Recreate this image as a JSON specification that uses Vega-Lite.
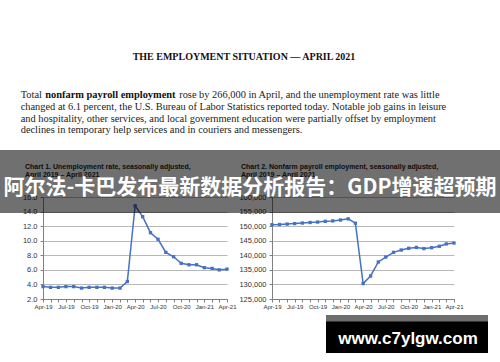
{
  "$schema": "https://vega.github.io/schema/vega-lite/v6.json",
  "width": 500,
  "height": 362,
  "padding": 0,
  "autosize": {"type": "none"},
  "background": "white",
  "config": {"view": {"stroke": null}},
  "datasets": {
    "unemp": [
      {"date": "2019/04/01", "rate": 3.7},
      {"date": "2019/05/01", "rate": 3.6},
      {"date": "2019/06/01", "rate": 3.6},
      {"date": "2019/07/01", "rate": 3.7},
      {"date": "2019/08/01", "rate": 3.7},
      {"date": "2019/09/01", "rate": 3.5},
      {"date": "2019/10/01", "rate": 3.6},
      {"date": "2019/11/01", "rate": 3.6},
      {"date": "2019/12/01", "rate": 3.6},
      {"date": "2020/01/01", "rate": 3.5},
      {"date": "2020/02/01", "rate": 3.5},
      {"date": "2020/03/01", "rate": 4.4},
      {"date": "2020/04/01", "rate": 14.8},
      {"date": "2020/05/01", "rate": 13.3},
      {"date": "2020/06/01", "rate": 11.1},
      {"date": "2020/07/01", "rate": 10.2},
      {"date": "2020/08/01", "rate": 8.4},
      {"date": "2020/09/01", "rate": 7.8},
      {"date": "2020/10/01", "rate": 6.9},
      {"date": "2020/11/01", "rate": 6.7},
      {"date": "2020/12/01", "rate": 6.7},
      {"date": "2021/01/01", "rate": 6.3},
      {"date": "2021/02/01", "rate": 6.2},
      {"date": "2021/03/01", "rate": 6.0},
      {"date": "2021/04/01", "rate": 6.1}
    ],
    "payroll": [
      {"date": "2019/04/01", "jobs": 150500},
      {"date": "2019/05/01", "jobs": 150560},
      {"date": "2019/06/01", "jobs": 150700},
      {"date": "2019/07/01", "jobs": 150880},
      {"date": "2019/08/01", "jobs": 151060},
      {"date": "2019/09/01", "jobs": 151250},
      {"date": "2019/10/01", "jobs": 151400},
      {"date": "2019/11/01", "jobs": 151650},
      {"date": "2019/12/01", "jobs": 151800},
      {"date": "2020/01/01", "jobs": 152100},
      {"date": "2020/02/01", "jobs": 152500},
      {"date": "2020/03/01", "jobs": 151000},
      {"date": "2020/04/01", "jobs": 130300},
      {"date": "2020/05/01", "jobs": 132900},
      {"date": "2020/06/01", "jobs": 137700},
      {"date": "2020/07/01", "jobs": 139400},
      {"date": "2020/08/01", "jobs": 141000},
      {"date": "2020/09/01", "jobs": 141800},
      {"date": "2020/10/01", "jobs": 142400},
      {"date": "2020/11/01", "jobs": 142700},
      {"date": "2020/12/01", "jobs": 142300},
      {"date": "2021/01/01", "jobs": 142600},
      {"date": "2021/02/01", "jobs": 143100},
      {"date": "2021/03/01", "jobs": 143900},
      {"date": "2021/04/01", "jobs": 144200}
    ],
    "texts": [
      {"id": "head", "t": "THE EMPLOYMENT SITUATION — APRIL 2021"},
      {"id": "p1a", "t": "Total"},
      {"id": "p1b", "t": "nonfarm payroll employment"},
      {"id": "p1c", "t": "rose by 266,000 in April, and the unemployment rate was little"},
      {"id": "p2", "t": ["changed at 6.1 percent, the U.S. Bureau of Labor Statistics reported today. Notable job gains in leisure", "and hospitality, other services, and local government education were partially offset by employment", "declines in temporary help services and in couriers and messengers."]},
      {"id": "c1", "t": ["Chart 1. Unemployment rate, seasonally adjusted,", "April 2019 – April 2021"]},
      {"id": "c2", "t": ["Chart 2. Nonfarm payroll employment, seasonally adjusted,", "April 2019 – April 2021"]},
      {"id": "banner", "t": "阿尔法-卡巴发布最新数据分析报告：GDP增速超预期"},
      {"id": "wm", "t": "www.c7ylgw.com"}
    ]
  },
  "layer": [
    {
      "data": {"name": "unemp"},
      "encoding": {
        "x": {
          "field": "date", "type": "temporal",
          "scale": {"domain": [{"year": 2019, "month": 4, "date": 1}, {"year": 2021, "month": 4, "date": 1}], "range": [43, 227]},
          "axis": {
            "title": null, "orient": "bottom", "offset": -63, "grid": false,
            "tickCount": {"interval": "month", "step": 1},
            "labelExpr": "month(datum.value) % 3 == 0 ? timeFormat(datum.value, '%b-%y') : ''",
            "labelOverlap": false, "labelFlush": false, "labelBound": false,
            "labelFont": "Liberation Sans", "labelFontSize": 6, "labelColor": "#333333", "labelPadding": 1,
            "tickSize": 3, "tickColor": "#808080", "domainColor": "#808080"
          }
        },
        "y": {
          "field": "rate", "type": "quantitative",
          "scale": {"domain": [2, 16], "range": [299, 197], "nice": false, "zero": false},
          "axis": {
            "title": null, "orient": "left", "offset": -43,
            "values": [2, 4, 6, 8, 10, 12, 14, 16], "format": ".1f",
            "labelFont": "Liberation Sans", "labelFontSize": 7.5, "labelColor": "#333333", "labelPadding": 3,
            "tickSize": 3, "tickColor": "#808080", "domainColor": "#808080",
            "grid": true, "gridColor": "#a6a6a6", "gridWidth": 0.8
          }
        }
      },
      "layer": [
        {"mark": {"type": "line", "color": "#4472C4", "strokeWidth": 1.5}},
        {"mark": {"type": "point", "shape": "square", "filled": true, "size": 11, "color": "#4472C4", "opacity": 1}},
        {
          "data": {"values": [{}]},
          "mark": {"type": "rule", "color": "#8c8c8c", "strokeWidth": 0.8},
          "encoding": {
            "x": {"datum": {"year": 2021, "month": 4, "date": 1}, "type": "temporal"},
            "y": {"datum": 2, "type": "quantitative"},
            "y2": {"datum": 16}
          }
        }
      ]
    },
    {
      "data": {"name": "payroll"},
      "encoding": {
        "x": {
          "field": "date", "type": "temporal",
          "scale": {"domain": [{"year": 2019, "month": 4, "date": 1}, {"year": 2021, "month": 4, "date": 1}], "range": [272, 454]},
          "axis": {
            "title": null, "orient": "bottom", "offset": -63, "grid": false,
            "tickCount": {"interval": "month", "step": 1},
            "labelExpr": "month(datum.value) % 3 == 0 ? timeFormat(datum.value, '%b-%y') : ''",
            "labelOverlap": false, "labelFlush": false, "labelBound": false,
            "labelFont": "Liberation Sans", "labelFontSize": 6, "labelColor": "#333333", "labelPadding": 1,
            "tickSize": 3, "tickColor": "#808080", "domainColor": "#808080"
          }
        },
        "y": {
          "field": "jobs", "type": "quantitative",
          "scale": {"domain": [125000, 160000], "range": [299, 197], "nice": false, "zero": false},
          "axis": {
            "title": null, "orient": "left", "offset": -272,
            "values": [125000, 130000, 135000, 140000, 145000, 150000, 155000, 160000], "format": ",.0f",
            "labelFont": "Liberation Sans", "labelFontSize": 7.5, "labelColor": "#333333", "labelPadding": 3,
            "tickSize": 3, "tickColor": "#808080", "domainColor": "#808080",
            "grid": true, "gridColor": "#a6a6a6", "gridWidth": 0.8
          }
        }
      },
      "layer": [
        {"mark": {"type": "line", "color": "#4472C4", "strokeWidth": 1.5}},
        {"mark": {"type": "point", "shape": "square", "filled": true, "size": 11, "color": "#4472C4", "opacity": 1}},
        {
          "data": {"values": [{}]},
          "mark": {"type": "rule", "color": "#8c8c8c", "strokeWidth": 0.8},
          "encoding": {
            "x": {"datum": {"year": 2021, "month": 4, "date": 1}, "type": "temporal"},
            "y": {"datum": 125000, "type": "quantitative", "axis": {"format": ",.0f"}},
            "y2": {"datum": 160000}
          }
        }
      ]
    },
    {
      "data": {"name": "texts"},
      "layer": [
        {
          "transform": [{"filter": "datum.id == 'head'"}],
          "mark": {"type": "text", "font": "Liberation Serif", "fontWeight": "bold", "fontSize": 10, "color": "#111111", "align": "center", "baseline": "alphabetic"},
          "encoding": {
            "x": {"datum": 244, "type": "quantitative", "scale": {"domain": [0, 500], "range": [0, 500], "nice": false, "zero": false}, "axis": null},
            "y": {"datum": 60, "type": "quantitative", "scale": {"domain": [0, 362], "range": [0, 362], "nice": false, "zero": false}, "axis": null},
            "text": {"field": "t"}
          }
        },
        {
          "transform": [{"filter": "datum.id == 'p1a'"}],
          "mark": {"type": "text", "font": "Liberation Serif", "fontSize": 10.4, "color": "#222222", "align": "left", "baseline": "alphabetic"},
          "encoding": {
            "x": {"datum": 20.7, "type": "quantitative", "axis": null},
            "y": {"datum": 97.7, "type": "quantitative", "axis": null},
            "text": {"field": "t"}
          }
        },
        {
          "transform": [{"filter": "datum.id == 'p1b'"}],
          "mark": {"type": "text", "font": "Liberation Serif", "fontWeight": "bold", "fontSize": 10.4, "color": "#111111", "align": "left", "baseline": "alphabetic"},
          "encoding": {
            "x": {"datum": 45.3, "type": "quantitative", "axis": null},
            "y": {"datum": 97.7, "type": "quantitative", "axis": null},
            "text": {"field": "t"}
          }
        },
        {
          "transform": [{"filter": "datum.id == 'p1c'"}],
          "mark": {"type": "text", "font": "Liberation Serif", "fontSize": 10.4, "color": "#222222", "align": "left", "baseline": "alphabetic"},
          "encoding": {
            "x": {"datum": 179.2, "type": "quantitative", "axis": null},
            "y": {"datum": 97.7, "type": "quantitative", "axis": null},
            "text": {"field": "t"}
          }
        },
        {
          "transform": [{"filter": "datum.id == 'p2'"}],
          "mark": {"type": "text", "font": "Liberation Serif", "fontSize": 10.4, "color": "#222222", "align": "left", "baseline": "alphabetic", "lineHeight": 11.8},
          "encoding": {
            "x": {"datum": 20.7, "type": "quantitative", "axis": null},
            "y": {"datum": 109.8, "type": "quantitative", "axis": null},
            "text": {"field": "t"}
          }
        },
        {
          "transform": [{"filter": "datum.id == 'c1'"}],
          "mark": {"type": "text", "font": "Liberation Sans", "fontWeight": "bold", "fontSize": 7, "color": "#222222", "align": "left", "baseline": "alphabetic", "lineHeight": 8},
          "encoding": {
            "x": {"datum": 25, "type": "quantitative", "axis": null},
            "y": {"datum": 168.5, "type": "quantitative", "axis": null},
            "text": {"field": "t"}
          }
        },
        {
          "transform": [{"filter": "datum.id == 'c2'"}],
          "mark": {"type": "text", "font": "Liberation Sans", "fontWeight": "bold", "fontSize": 7, "color": "#222222", "align": "left", "baseline": "alphabetic", "lineHeight": 8},
          "encoding": {
            "x": {"datum": 241, "type": "quantitative", "axis": null},
            "y": {"datum": 168.5, "type": "quantitative", "axis": null},
            "text": {"field": "t"}
          }
        },
        {
          "transform": [{"filter": "datum.id == 'banner'"}],
          "mark": {"type": "rect", "color": "#000000", "opacity": 0.56},
          "encoding": {
            "x": {"datum": 0, "type": "quantitative", "axis": null},
            "x2": {"datum": 500},
            "y": {"datum": 150, "type": "quantitative", "axis": null},
            "y2": {"datum": 213}
          }
        },
        {
          "transform": [{"filter": "datum.id == 'banner'"}],
          "mark": {"type": "text", "font": "Noto Sans CJK SC", "fontWeight": "bold", "fontSize": 21, "color": "#ffffff", "align": "center", "baseline": "alphabetic"},
          "encoding": {
            "x": {"datum": 250, "type": "quantitative", "axis": null},
            "y": {"datum": 193.5, "type": "quantitative", "axis": null},
            "text": {"field": "t"}
          }
        },
        {
          "transform": [{"filter": "datum.id == 'wm'"}],
          "mark": {"type": "rect", "color": "#6e6e6e"},
          "encoding": {
            "x": {"datum": 326, "type": "quantitative", "axis": null},
            "x2": {"datum": 488},
            "y": {"datum": 315, "type": "quantitative", "axis": null},
            "y2": {"datum": 322}
          }
        },
        {
          "transform": [{"filter": "datum.id == 'wm'"}],
          "mark": {"type": "rect", "color": "#000000"},
          "encoding": {
            "x": {"datum": 326, "type": "quantitative", "axis": null},
            "x2": {"datum": 488},
            "y": {"datum": 321.5, "type": "quantitative", "axis": null},
            "y2": {"datum": 353}
          }
        },
        {
          "transform": [{"filter": "datum.id == 'wm'"}],
          "mark": {"type": "text", "font": "Liberation Sans", "fontWeight": "bold", "fontSize": 17, "color": "#ffffff", "align": "center", "baseline": "alphabetic"},
          "encoding": {
            "x": {"datum": 408, "type": "quantitative", "axis": null},
            "y": {"datum": 344, "type": "quantitative", "axis": null},
            "text": {"field": "t"}
          }
        }
      ]
    }
  ],
  "resolve": {"scale": {"x": "independent", "y": "independent"}}
}
